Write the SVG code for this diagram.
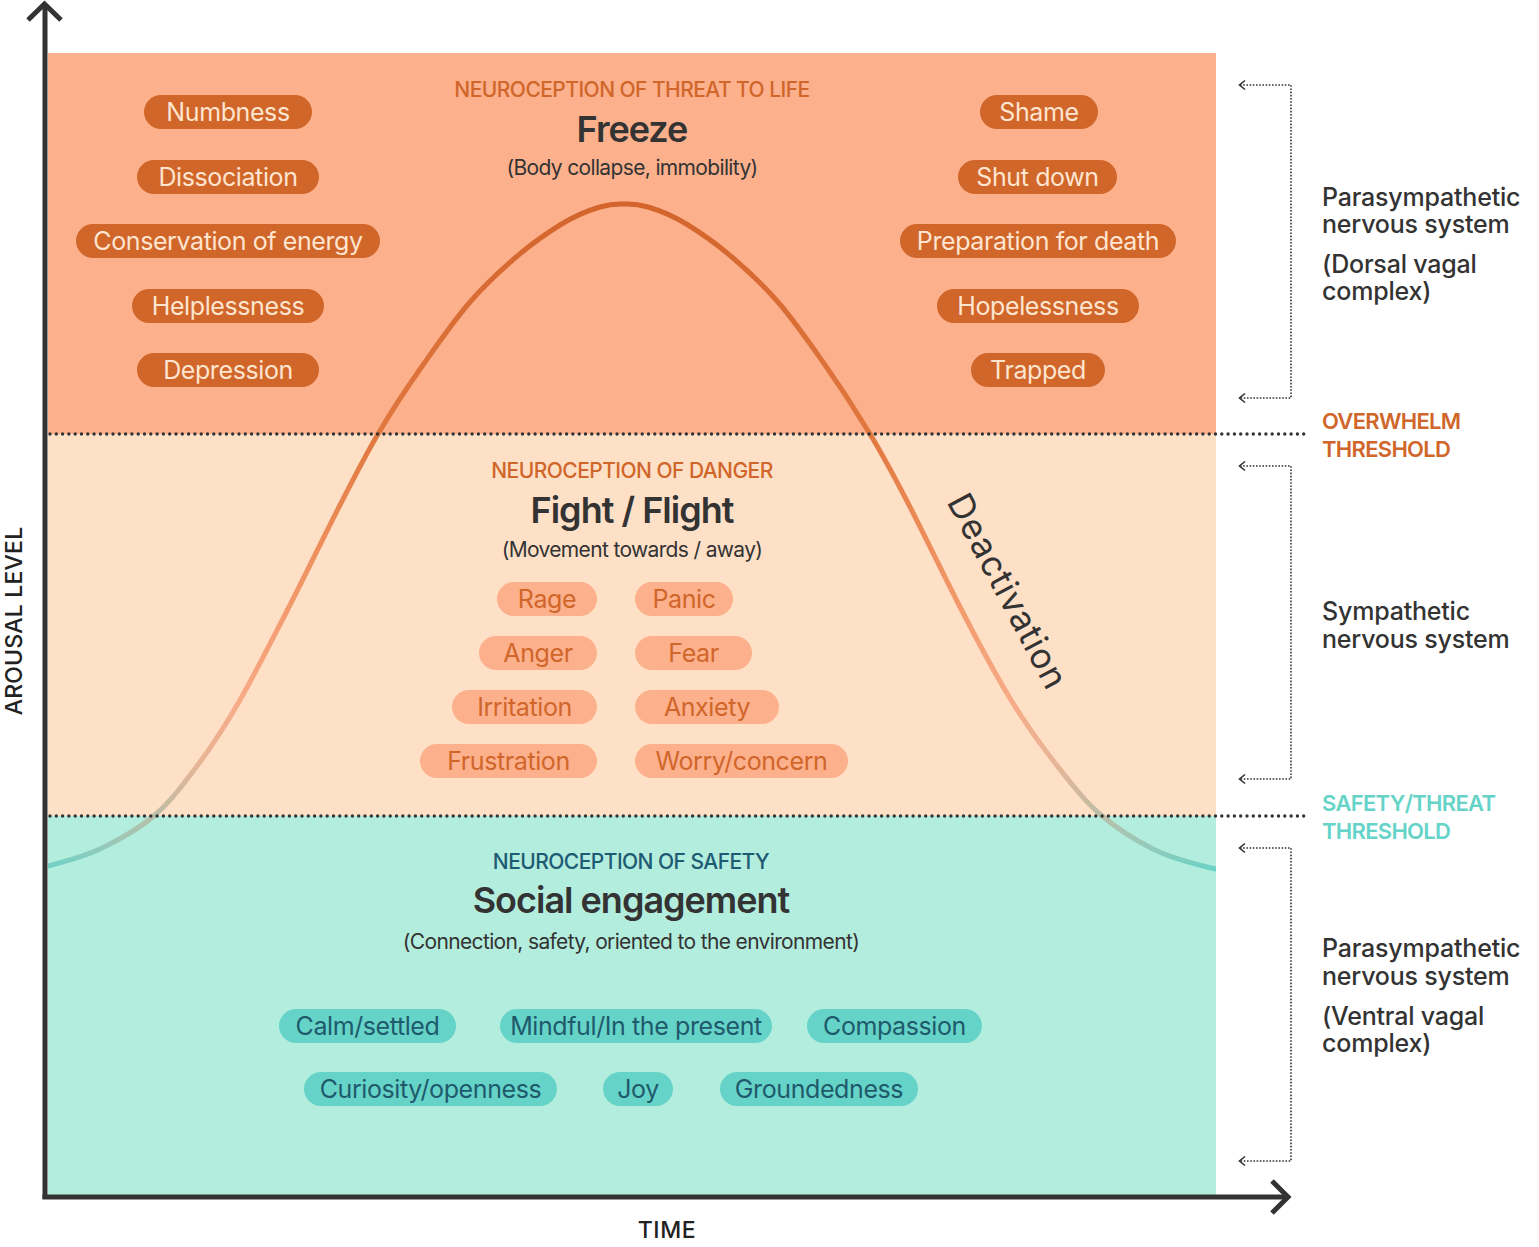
<svg xmlns="http://www.w3.org/2000/svg" width="1539" height="1247" viewBox="0 0 1539 1247">
<style>
.t{font-family:Inter,"Liberation Sans",sans-serif}
.pillA{fill:#D0662A}
.pillB{fill:#FDB08C}
.pillC{fill:#66D3C8}
.txA{font-family:Inter,"Liberation Sans",sans-serif;font-size:25px;fill:#FFE4CF;text-anchor:middle;letter-spacing:-0.4px}
.txB{font-family:Inter,"Liberation Sans",sans-serif;font-size:25px;fill:#D0662A;text-anchor:middle;letter-spacing:-0.4px}
.txC{font-family:Inter,"Liberation Sans",sans-serif;font-size:25px;fill:#1E5A6C;text-anchor:middle;letter-spacing:-0.4px}
.cap{font-family:Inter,"Liberation Sans",sans-serif;font-size:21px;font-weight:500;text-anchor:middle;letter-spacing:-0.55px}
.big{font-family:Inter,"Liberation Sans",sans-serif;font-size:36px;font-weight:600;fill:#333;text-anchor:middle;letter-spacing:-1px}
.sub{font-family:Inter,"Liberation Sans",sans-serif;font-size:21px;fill:#333;text-anchor:middle;letter-spacing:-0.65px}
.side{font-family:Inter,"Liberation Sans",sans-serif;font-size:25px;font-weight:500;fill:#333;letter-spacing:-0.2px}
.thr{font-family:Inter,"Liberation Sans",sans-serif;font-size:22px;font-weight:600;letter-spacing:-0.7px}
.axis{fill:none;stroke:#333;stroke-width:5;stroke-linecap:butt}
.dots{fill:none;stroke:#333;stroke-width:3.4;stroke-linecap:round;stroke-dasharray:0 6.3}
.br{fill:none;stroke:#333;stroke-width:1.6;stroke-dasharray:1.6 1.6}
.ah{fill:none;stroke:#333;stroke-width:1.6}
</style>
<defs>
<linearGradient id="curveGrad" gradientUnits="userSpaceOnUse" x1="0" y1="204" x2="0" y2="872">
<stop offset="0" stop-color="#D3652C"/>
<stop offset="0.34" stop-color="#E0773F"/>
<stop offset="0.45" stop-color="#E98650"/>
<stop offset="0.6" stop-color="#F29A6C"/>
<stop offset="0.74" stop-color="#F8AA86"/>
<stop offset="0.84" stop-color="#E6B597"/>
<stop offset="0.9" stop-color="#C6BBA2"/>
<stop offset="0.96" stop-color="#97C9B9"/>
<stop offset="1" stop-color="#66D3C8"/>
</linearGradient>
<clipPath id="plot"><rect x="48" y="0" width="1168" height="1200"/></clipPath>
</defs>

<g id="bands">
<rect x="48" y="53" width="1168" height="381" fill="#FDB08C"/>
<rect x="48" y="434" width="1168" height="382" fill="#FEE0C7"/>
<rect x="48" y="816" width="1168" height="380" fill="#B3EDDE"/>
</g>

<g id="curve" clip-path="url(#plot)">
<path fill="none" stroke="url(#curveGrad)" stroke-width="5" d="M20 872 C29.7 870.3 34.7 869.8 48 866 C61.3 862.2 82.2 857.5 100 849 C117.8 840.5 138.3 829.5 155 815 C171.7 800.5 185.8 781.2 200 762 C214.2 742.8 225 726.2 240 700 C255 673.8 273.3 637.5 290 605 C306.7 572.5 325.3 533.5 340 505 C354.7 476.5 364.2 457.5 378 434 C391.8 410.5 409.3 384.3 425 362 C440.7 339.7 455 319.3 470 302 C485 284.7 500.8 270.2 515 258 C529.2 245.8 546.2 233.5 560 225 C573.8 216.5 588 210.5 600 207 C612 203.5 616 204 624 204 C632 204 636 203.5 648 207 C660 210.5 674.2 216.5 688 225 C701.8 233.5 718.8 245.8 733 258 C747.2 270.2 763 284.7 778 302 C793 319.3 807.3 339.7 823 362 C838.7 384.3 855.8 410.5 870 434 C884.2 457.5 894.3 476.5 909 505 C923.7 533.5 942.3 572.5 959 605 C975.7 637.5 995 673.8 1011 700 C1027 726.2 1040 744 1055 763 C1070 782 1084 800.5 1101 815 C1118 829.5 1136 840.5 1153 849 C1170 857.5 1188 862.2 1203 866 C1216 869.3 1222 870.5 1232 872"/>
</g>

<g id="thresholds">
<line class="dots" x1="50" y1="434" x2="1308" y2="434"/>
<line class="dots" x1="50" y1="816" x2="1310" y2="816"/>
</g>

<g id="axes">
<line class="axis" x1="45" y1="5" x2="45" y2="1199"/>
<polyline class="axis" stroke-width="4" points="28,20 44.5,4 61,20"/>
<line class="axis" x1="42.5" y1="1197" x2="1287" y2="1197"/>
<polyline class="axis" stroke-width="4" points="1272,1181 1288,1197 1272,1213"/>
<text class="t" font-size="23" font-weight="500" fill="#222" text-anchor="middle" letter-spacing="0.2" transform="translate(22,621) rotate(-90)">AROUSAL LEVEL</text>
<text class="t" x="667" y="1238" font-size="23" font-weight="500" fill="#222" text-anchor="middle" letter-spacing="0.6">TIME</text>
</g>

<g id="freeze-title">
<text class="cap" x="632" y="97" fill="#D0662A">NEUROCEPTION OF THREAT TO LIFE</text>
<text class="big" x="632" y="142">Freeze</text>
<text class="sub" x="632" y="175">(Body collapse, immobility)</text>
</g>
<g id="danger-title">
<text class="cap" x="632" y="478" fill="#D0662A">NEUROCEPTION OF DANGER</text>
<text class="big" x="632" y="523">Fight / Flight</text>
<text class="sub" x="632" y="557">(Movement towards / away)</text>
</g>
<g id="safety-title">
<text class="cap" x="631" y="869" fill="#1D5B73">NEUROCEPTION OF SAFETY</text>
<text class="big" x="631" y="913" font-size="37">Social engagement</text>
<text class="sub" x="631" y="949">(Connection, safety, oriented to the environment)</text>
</g>

<g id="deactivation">
<text class="t" font-size="35" fill="#333" text-anchor="middle" letter-spacing="0.8" transform="translate(997,597) rotate(62)">Deactivation</text>
</g>

<g id="pill-numbness"><rect class="pillA" x="144" y="95" width="168" height="34" rx="17"/><text class="txA" x="228" y="121">Numbness</text></g>
<g id="pill-dissociation"><rect class="pillA" x="137" y="160" width="182" height="34" rx="17"/><text class="txA" x="228" y="186">Dissociation</text></g>
<g id="pill-conservation"><rect class="pillA" x="76" y="224" width="304" height="34" rx="17"/><text class="txA" x="228" y="250">Conservation of energy</text></g>
<g id="pill-helplessness"><rect class="pillA" x="132" y="289" width="192" height="34" rx="17"/><text class="txA" x="228" y="315">Helplessness</text></g>
<g id="pill-depression"><rect class="pillA" x="137" y="353" width="182" height="34" rx="17"/><text class="txA" x="228" y="379">Depression</text></g>

<g id="pill-shame"><rect class="pillA" x="980" y="95" width="118" height="34" rx="17"/><text class="txA" x="1039" y="121">Shame</text></g>
<g id="pill-shutdown"><rect class="pillA" x="958" y="160" width="159" height="34" rx="17"/><text class="txA" x="1037.5" y="186">Shut down</text></g>
<g id="pill-preparation"><rect class="pillA" x="900" y="224" width="276" height="34" rx="17"/><text class="txA" x="1038" y="250">Preparation for death</text></g>
<g id="pill-hopelessness"><rect class="pillA" x="937" y="289" width="202" height="34" rx="17"/><text class="txA" x="1038" y="315">Hopelessness</text></g>
<g id="pill-trapped"><rect class="pillA" x="971" y="353" width="134" height="34" rx="17"/><text class="txA" x="1038" y="379">Trapped</text></g>

<g id="pill-rage"><rect class="pillB" x="497" y="582" width="100" height="34" rx="17"/><text class="txB" x="547" y="608">Rage</text></g>
<g id="pill-panic"><rect class="pillB" x="635" y="582" width="98" height="34" rx="17"/><text class="txB" x="684" y="608">Panic</text></g>
<g id="pill-anger"><rect class="pillB" x="479" y="636" width="118" height="34" rx="17"/><text class="txB" x="538" y="662">Anger</text></g>
<g id="pill-fear"><rect class="pillB" x="635" y="636" width="117" height="34" rx="17"/><text class="txB" x="693.5" y="662">Fear</text></g>
<g id="pill-irritation"><rect class="pillB" x="452" y="690" width="145" height="34" rx="17"/><text class="txB" x="524.5" y="716">Irritation</text></g>
<g id="pill-anxiety"><rect class="pillB" x="635" y="690" width="144" height="34" rx="17"/><text class="txB" x="707" y="716">Anxiety</text></g>
<g id="pill-frustration"><rect class="pillB" x="420" y="744" width="177" height="34" rx="17"/><text class="txB" x="508.5" y="770">Frustration</text></g>
<g id="pill-worry"><rect class="pillB" x="635" y="744" width="213" height="34" rx="17"/><text class="txB" x="741.5" y="770">Worry/concern</text></g>

<g id="pill-calm"><rect class="pillC" x="279" y="1009" width="177" height="34" rx="17"/><text class="txC" x="367.5" y="1035">Calm/settled</text></g>
<g id="pill-mindful"><rect class="pillC" x="500" y="1009" width="272" height="34" rx="17"/><text class="txC" x="636" y="1035">Mindful/In the present</text></g>
<g id="pill-compassion"><rect class="pillC" x="807" y="1009" width="175" height="34" rx="17"/><text class="txC" x="894.5" y="1035">Compassion</text></g>
<g id="pill-curiosity"><rect class="pillC" x="304" y="1072" width="253" height="34" rx="17"/><text class="txC" x="430.5" y="1098">Curiosity/openness</text></g>
<g id="pill-joy"><rect class="pillC" x="603" y="1072" width="70" height="34" rx="17"/><text class="txC" x="638" y="1098">Joy</text></g>
<g id="pill-groundedness"><rect class="pillC" x="720" y="1072" width="198" height="34" rx="17"/><text class="txC" x="819" y="1098">Groundedness</text></g>

<g id="connectors">
<polyline class="br" points="1240,85 1291,85 1291,398 1240,398"/>
<polyline class="ah" points="1245,80.5 1239.5,85 1245,89.5"/>
<polyline class="ah" points="1245,393.5 1239.5,398 1245,402.5"/>
<polyline class="br" points="1240,466 1291,466 1291,779 1240,779"/>
<polyline class="ah" points="1245,461.5 1239.5,466 1245,470.5"/>
<polyline class="ah" points="1245,774.5 1239.5,779 1245,783.5"/>
<polyline class="br" points="1240,848 1291,848 1291,1161 1240,1161"/>
<polyline class="ah" points="1245,843.5 1239.5,848 1245,852.5"/>
<polyline class="ah" points="1245,1156.5 1239.5,1161 1245,1165.5"/>
</g>

<g id="label-dorsal">
<text class="side" x="1322" y="206">Parasympathetic</text>
<text class="side" x="1322" y="233">nervous system</text>
<text class="side" x="1322" y="273">(Dorsal vagal</text>
<text class="side" x="1322" y="300">complex)</text>
</g>
<g id="label-overwhelm">
<text class="thr" x="1322" y="429" fill="#D0662A">OVERWHELM</text>
<text class="thr" x="1322" y="457" fill="#D0662A">THRESHOLD</text>
</g>
<g id="label-sympathetic">
<text class="side" x="1322" y="620">Sympathetic</text>
<text class="side" x="1322" y="648">nervous system</text>
</g>
<g id="label-safety">
<text class="thr" x="1322" y="811" fill="#66D3C8">SAFETY/THREAT</text>
<text class="thr" x="1322" y="839" fill="#66D3C8">THRESHOLD</text>
</g>
<g id="label-ventral">
<text class="side" x="1322" y="957">Parasympathetic</text>
<text class="side" x="1322" y="985">nervous system</text>
<text class="side" x="1322" y="1025">(Ventral vagal</text>
<text class="side" x="1322" y="1052">complex)</text>
</g>
</svg>
